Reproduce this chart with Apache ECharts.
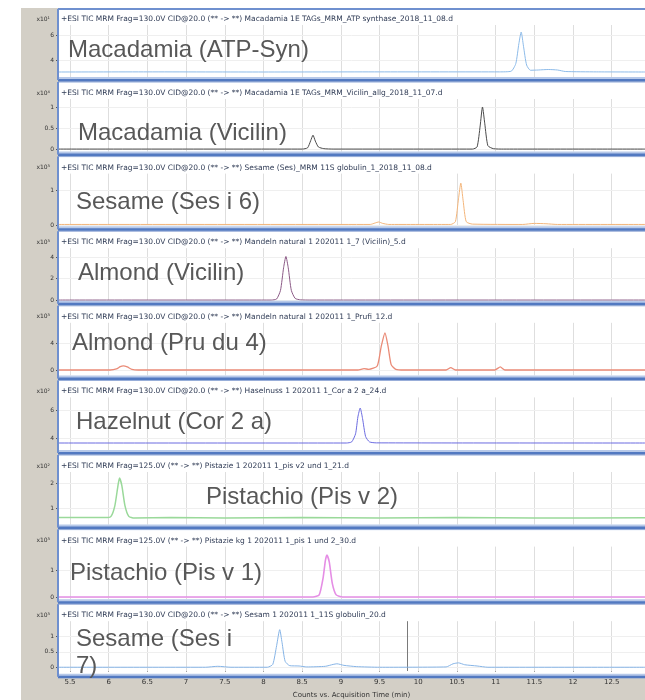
<!DOCTYPE html>
<html><head><meta charset="utf-8">
<script src="https://cdn.jsdelivr.net/npm/echarts@6.0.0/dist/echarts.min.js"></script>
<style>html,body{margin:0;padding:0;background:#fff}#c{width:645px;height:700px}</style>
</head><body><div id="c"></div>
<script>
// ---------- DATA ----------
const panelNames = ['Macadamia (ATP-Syn)','Macadamia (Vicilin)','Sesame (Ses i 6)','Almond (Vicilin)','Almond (Pru du 4)','Hazelnut (Cor 2 a)','Pistachio (Pis v 2)','Pistachio (Pis v 1)','Sesame (Ses i\n7)'];
const headerLines = [
 '+ESI TIC MRM Frag=130.0V CID@20.0 (** -> **) Macadamia 1E TAGs_MRM_ATP synthase_2018_11_08.d',
 '+ESI TIC MRM Frag=130.0V CID@20.0 (** -> **) Macadamia 1E TAGs_MRM_Vicilin_allg_2018_11_07.d',
 '+ESI TIC MRM Frag=130.0V CID@20.0 (** -> **) Sesame (Ses)_MRM 11S globulin_1_2018_11_08.d',
 '+ESI TIC MRM Frag=130.0V CID@20.0 (** -> **) Mandeln natural 1 202011 1_7 (Vicilin)_5.d',
 '+ESI TIC MRM Frag=130.0V CID@20.0 (** -> **) Mandeln natural 1 202011 1_Prufi_12.d',
 '+ESI TIC MRM Frag=130.0V CID@20.0 (** -> **) Haselnuss 1 202011 1_Cor a 2 a_24.d',
 '+ESI TIC MRM Frag=125.0V (** -> **) Pistazie 1 202011 1_pis v2 und 1_21.d',
 '+ESI TIC MRM Frag=125.0V (** -> **) Pistazie kg 1 202011 1_pis 1 und 2_30.d',
 '+ESI TIC MRM Frag=130.0V CID@20.0 (** -> **) Sesam 1 202011 1_11S globulin_20.d'
];
const scaleLabels = ['x10\u00B9','x10\u2074','x10\u00B3','x10\u00B3','x10\u00B3','x10\u00B2','x10\u00B2','x10\u00B3','x10\u00B3'];
const tickTimes = [5.5,6,6.5,7,7.5,8,8.5,9,9.5,10,10.5,11,11.5,12,12.5];
const tickLabels = ['5.5','6','6.5','7','7.5','8','8.5','9','9.5','10','10.5','11','11.5','12','12.5'];
const xAxisTitle = 'Counts vs. Acquisition Time (min)';
const yTicks = [[4,6],[0,0.5,1],[0,1],[0,2,4],[0,4],[4,6],[1,2],[0,1],[0,0.5,1]];
const yMin = [2.64,-0.06,-0.03,-0.07,-0.8,3.14,0.34,-0.08,-0.11];
const yMax = [6.8,1.19,1.47,4.82,6.99,6.9,2.44,1.87,1.48];

const macATP = [[5.35,3.04],[6.5,3.05],[8,3.04],[9.5,3.05],[11.05,3.05],[11.2,3.1],[11.26,3.7],[11.3,5.3],[11.33,6.24],[11.36,5.1],[11.4,3.6],[11.45,3.18],[11.55,3.2],[11.68,3.24],[11.8,3.2],[11.9,3.08],[12.3,3.05],[12.93,3.04]];
const macVic = [[5.35,0],[8.5,0],[8.57,0.03],[8.61,0.2],[8.64,0.33],[8.67,0.19],[8.71,0.05],[8.78,0.01],[8.9,0],[10.7,0],[10.76,0.05],[10.8,0.55],[10.83,1.0],[10.86,0.6],[10.9,0.08],[10.97,0.01],[11.1,0],[12.93,0]];
const ses6 = [[5.35,0.02],[9.38,0.02],[9.44,0.06],[9.49,0.09],[9.54,0.05],[9.62,0.02],[10.42,0.02],[10.48,0.1],[10.52,0.75],[10.55,1.2],[10.58,0.7],[10.62,0.1],[10.7,0.03],[11.35,0.02],[11.5,0.05],[11.65,0.04],[11.8,0.02],[12.93,0.02]];
const almVic = [[5.35,0],[8.1,0],[8.17,0.1],[8.22,0.9],[8.26,3.0],[8.29,4.05],[8.32,3.0],[8.36,0.9],[8.41,0.15],[8.48,0.02],[8.6,0],[12.93,0]];
const almPru = [[5.35,0],[6.02,0],[6.1,0.15],[6.15,0.5],[6.19,0.6],[6.24,0.45],[6.3,0.1],[6.38,0],[9.22,0],[9.3,0.2],[9.36,0.1],[9.47,0.6],[9.52,3.4],[9.57,5.48],[9.61,3.5],[9.65,0.8],[9.71,0.1],[9.82,0],[10.36,0],[10.42,0.35],[10.48,0],[10.99,0],[11.06,0.45],[11.12,0],[12.93,0]];
const hazCor = [[5.35,3.64],[9.07,3.64],[9.14,3.72],[9.19,4.3],[9.22,5.5],[9.25,6.14],[9.28,5.4],[9.32,4.1],[9.37,3.72],[9.46,3.65],[12.93,3.64]];
const pisV2 = [[5.35,0.62],[5.96,0.62],[6.03,0.67],[6.08,1.1],[6.12,1.9],[6.14,2.2],[6.17,1.9],[6.21,1.1],[6.26,0.67],[6.33,0.6],[6.8,0.62],[7.5,0.6],[8.5,0.62],[9.5,0.6],[10.5,0.62],[11.5,0.6],[12.93,0.61]];
const pisV1 = [[5.35,0],[8.64,0],[8.72,0.08],[8.77,0.7],[8.8,1.35],[8.82,1.56],[8.85,1.3],[8.89,0.5],[8.94,0.08],[9.02,0],[12.93,0]];
const ses7 = [[5.35,0.01],[7.25,0.01],[7.41,0.04],[7.58,0.01],[8.05,0.01],[8.12,0.1],[8.17,0.7],[8.21,1.21],[8.24,0.8],[8.28,0.2],[8.34,0.06],[8.46,0.05],[8.56,0.02],[8.8,0.04],[8.9,0.1],[8.95,0.12],[9.04,0.07],[9.2,0.03],[9.5,0.01],[10.36,0.02],[10.45,0.12],[10.52,0.15],[10.6,0.09],[10.76,0.05],[10.9,0.01],[12.93,0.01]];
const ses7Marker = [9.86];

const panelData = [macATP, macVic, ses6, almVic, almPru, hazCor, pisV2, pisV1, ses7];

// ---------- STYLE / LAYOUT ----------
const colors = ['#8dbbe9','#4a4a4a','#f3b57a','#8b5a86','#ea8b77','#6b6be0','#9ad99a','#e58ee5','#86b4e6'];
const lineWidths = [1,1,1,1,1.3,1,1.5,1.6,1];
const labelPos = [[68,50],[78,133],[76,202],[78,273],[72,343],[76,422],[206,497],[70,573],[76,626]];
const X0 = 5.345, X1 = 12.93, LEFT = 58;
const N = 9;
const sep = [], head = [], fTop = [];
for (let k = 0; k < N; k++) {
  sep.push(80 + 74.6 * k);
  head.push(k === 0 ? 19 : 80 + 74.6 * (k - 1) + 13);
  fTop.push(k === 0 ? 9 : 80 + 74.6 * (k - 1) + 2);
}

const grids = [], xAxes = [], yAxes = [], series = [], graphics = [];
graphics.push({type:'rect', z:-10, shape:{x:21, y:8, width:640, height:700}, style:{fill:'#d3cfc6'}});
for (let k = 0; k < N; k++) {
  const gt = head[k] + 6, gb = sep[k] - 3;
  grids.push({left: LEFT, right: 0, top: gt, height: gb - gt});
  const last = k === N - 1;
  xAxes.push({
    gridIndex: k, type: 'value', min: X0, max: X1, show: last,
    axisLine: {show: false},
    axisTick: {show: true, customValues: tickTimes, length: 4, lineStyle: {color: '#555'}},
    axisLabel: {show: true, customValues: tickTimes, fontSize: 7, margin: 8, color: '#333', fontFamily: 'DejaVu Sans',
      formatter: v => { const i = tickTimes.findIndex(t => Math.abs(t - v) < 1e-6); return i >= 0 ? tickLabels[i] : ''; }},
    splitLine: {show: false},
    name: last ? xAxisTitle : '', nameLocation: 'middle', nameGap: 21,
    nameTextStyle: {fontSize: 7, color: '#333', fontFamily: 'DejaVu Sans'}
  });
  yAxes.push({
    gridIndex: k, type: 'value', min: yMin[k], max: yMax[k],
    axisLine: {show: false},
    axisTick: {show: true, customValues: yTicks[k], length: 2, lineStyle: {color: '#555'}},
    axisLabel: {customValues: yTicks[k], fontSize: 6, margin: 4, color: '#333', fontFamily: 'DejaVu Sans'},
    splitLine: {show: false}
  });
  const ml = tickTimes.map(t => ({xAxis: t})).concat(yTicks[k].map(v => ({yAxis: v, lineStyle: {color: '#efefef'}})));
  if (k === 8) ses7Marker.forEach(t => ml.push({xAxis: t, lineStyle: {color: '#7a7a7a', width: 1}}));
  series.push({
    type: 'line', xAxisIndex: k, yAxisIndex: k, data: panelData[k], showSymbol: false, symbol: 'none',
    smooth: 0.2, lineStyle: {width: lineWidths[k], color: colors[k]}, z: 3, silent: true,
    markLine: {silent: true, symbol: 'none', z: 1, animation: false, label: {show: false},
      lineStyle: {color: '#dedede', width: 1, type: 'solid'}, data: ml}
  });
  // panel frame
  graphics.push({type:'rect', z:-5, shape:{x:LEFT, y:fTop[k], width:620, height:sep[k]-fTop[k]}, style:{fill:'#ffffff', stroke:'#8ea7d8', lineWidth:1}});
  graphics.push({type:'rect', z:52, shape:{x:LEFT-1, y:fTop[k], width:2, height:sep[k]-fTop[k]}, style:{fill:'#6f90cf'}});
  // separator
  graphics.push({type:'rect', z:50, shape:{x:LEFT, y:sep[k]-3, width:620, height:4.5}, style:{fill:'#b7c9e9'}});
  graphics.push({type:'rect', z:51, shape:{x:LEFT, y:sep[k]-1, width:620, height:2.5}, style:{fill:'#5279c1'}});
  // header line
  graphics.push({type:'text', z:60, x:61, y:head[k], style:{text:headerLines[k], fontSize:7.5, fontFamily:'DejaVu Sans', fill:'#2f3b55', verticalAlign:'middle'}});
  graphics.push({type:'text', z:60, x:50, y:head[k], style:{text:scaleLabels[k], fontSize:6, fontFamily:'DejaVu Sans', fill:'#333', align:'right', verticalAlign:'middle'}});
  // big label
  const multi = panelNames[k].indexOf('\n') >= 0;
  graphics.push({type:'text', z:60, x:labelPos[k][0], y:labelPos[k][1],
    style:{text:panelNames[k], fontSize:24, fontFamily:'Liberation Sans, Arial', fill:'#585858',
      verticalAlign: multi ? 'top' : 'middle', lineHeight: 27}});
}
graphics.push({type:'rect', z:52, shape:{x:LEFT, y:8, width:620, height:2}, style:{fill:'#6f90cf'}});

const chart = echarts.init(document.getElementById('c'), null, {renderer: 'canvas'});
chart.setOption({
  animation: false,
  backgroundColor: '#ffffff',
  grid: grids, xAxis: xAxes, yAxis: yAxes, series: series, graphic: graphics
});
</script>
</body></html>
